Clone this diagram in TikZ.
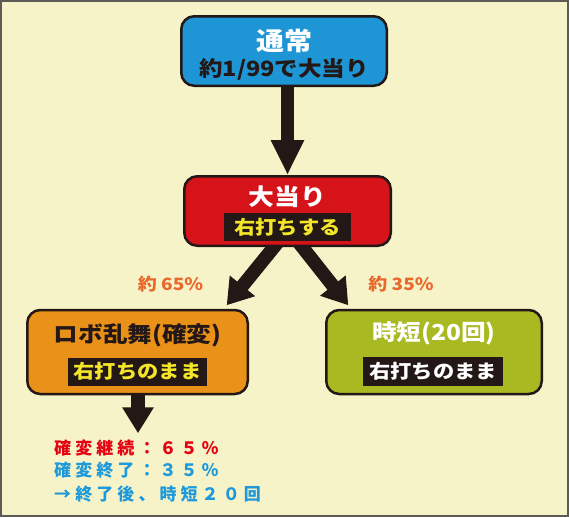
\documentclass[tikz,border=0pt]{standalone}
\usepackage{fontspec}
\newfontfamily\jp[FakeStretch=1.12]{Noto Sans CJK JP}
\newfontfamily\jpsp[LetterSpace=24]{Noto Sans CJK JP}
\usetikzlibrary{calc}
\usetikzlibrary{arrows.meta}
\usetikzlibrary{backgrounds}
\definecolor{bgc}{HTML}{F6F3C9}
\definecolor{framec}{HTML}{5E5A55}
\definecolor{linec}{HTML}{231815}
\definecolor{cblue}{HTML}{1E95D5}
\definecolor{cred}{HTML}{D7131A}
\definecolor{corange}{HTML}{E99118}
\definecolor{cgreen}{HTML}{A9B922}
\definecolor{ratec}{HTML}{E9692C}
\definecolor{yelc}{HTML}{F2E52A}
\definecolor{redt}{HTML}{E50012}
\definecolor{bluet}{HTML}{1E9ADA}
\begin{document}
\begin{tikzpicture}[x=1pt,y=-1pt,
    box/.style={draw=linec,line width=2.5pt,rounded corners=13pt,inner sep=0pt},
    head/.style={font=\jp\bfseries\fontsize{#1}{#1}\selectfont,inner sep=0pt},
    head/.default=22,
    tag/.style={fill=linec,inner sep=0pt,font=\jp\bfseries\fontsize{19}{19}\selectfont},
    rate/.style={text=ratec,inner sep=0pt,font=\jp\bfseries\fontsize{17}{17}\selectfont},
    note/.style={anchor=base west,inner sep=0pt,font=\jpsp\bfseries\fontsize{17}{17}\selectfont},
    fat/.style={draw=linec,line width=13.5pt,-{Triangle[width=31pt,length=35pt]}},
    slim/.style={draw=linec,line width=13.5pt,-{Triangle[width=31pt,length=25pt]}}]
                \useasboundingbox (0,0) rectangle (569,517);
                \begin{scope}[on background layer]
                    \draw[fill=bgc,draw=framec,line width=2pt] (1,1) rectangle (568,516);
                \end{scope}

                \foreach \n/\x/\y/\w/\h/\c in{b1/284/51/205.5/69.5/cblue,b2/287.5/211/206.5/69.5/cred,b3/137.5/352/220.5/84/corange,b4/434/352/215.5/84/cgreen}
                {
                    \node[box,fill=\c,minimum width=\w,minimum height=\h] (\n) at (\x,\y) {};
                }

                \node[head=25,text=white] (h1) at ($(b1.center)+(0,-10)$) {通常};
                \node[head=21,text=linec] (s1) at ($(b1.center)+(0,18)$) {約1/99で大当り};

                \node[head=23,text=white] (h2) at ($(b2.center)+(0,-14)$) {大当り};
                \node[tag,text=yelc,minimum width=127,minimum height=28] (t2) at ($(b2.center)+(0,16)$) {右打ちする};

                \node[head,text=linec] (h3) at ($(b3.center)+(0,-17)$) {ロボ乱舞(確変)};
                \node[tag,text=yelc,minimum width=139,minimum height=28] (t3) at ($(b3.center)+(0,19.5)$) {右打ちのまま};

                \node[head,text=white] (h4) at ($(b4.center)+(0,-19)$) {時短(20回)};
                \node[tag,text=white,minimum width=140,minimum height=29] (t4) at ($(b4.center)+(-1,19.5)$) {右打ちのまま};

                \node[rate] (r1) at (170.5,284) {約 65\%};
                \node[rate] (r2) at (401,284) {約 35\%};

                \coordinate (e3) at ($(b3.south)+(0.5,38)$);

                \begin{scope}[on background layer]
                    \draw[fat] (b1.center -| b2.center) -- (b2.north);
                    \draw[slim] ($(b2.south)+(-7,-8)$) -- ($(b3.north east)+(-22.3,-3.5)$);
                    \draw[slim] ($(b2.south)+(8.5,-8)$) -- ($(b4.north west)+(23.3,-3.5)$);
                    \draw[fat,-{Triangle[width=30pt,length=26pt]}] (b3.center -| e3) -- (e3);
                \end{scope}

                \node[note,text=redt] (n1) at (54,454) {確変継続：６５％};
                \node[note,text=bluet] (n2) at (54,476) {確変終了：３５％};
                \node[note,text=bluet] (n3) at (54,500) {→終了後、時短２０回};
            \end{tikzpicture}
\end{document}
